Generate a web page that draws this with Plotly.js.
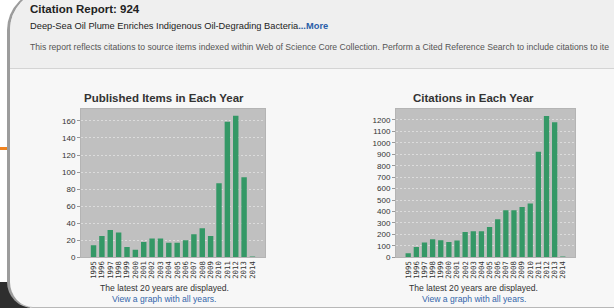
<!DOCTYPE html>
<html>
<head>
<meta charset="utf-8">
<script src="https://cdn.plot.ly/plotly-3.0.1.min.js"></script>
<style>
  html, body { margin:0; padding:0; width:614px; height:308px; overflow:hidden; background:#ffffff; font-family:"Liberation Sans", Arial, sans-serif; }
  #dark { position:absolute; left:0; top:282px; width:30px; height:26px; background:#2e2e2e; }
  #orange { position:absolute; left:0; top:147px; width:10px; height:3px; background:#f0831f; }
  #panel { position:absolute; left:7px; top:-10px; width:640px; height:318px; background:#f7f7f7;
           border-left:3px solid #9c9c9c; border-bottom:1px solid #b8b8b8; border-top:1px solid #c8c8c8;
           border-radius:40px 30px 26px 26px; box-sizing:border-box; overflow:hidden; }
  #header { position:absolute; left:0; top:0; width:100%; height:77px; background:#efefef; border-bottom:1px solid #d4d4d4; }
  .t { position:absolute; white-space:nowrap; }
  #chart { position:absolute; left:0; top:0; width:614px; height:308px; }
</style>
</head>
<body>
<div id="dark"></div>
<div id="orange"></div>
<div id="panel"><div id="header"></div></div>
<div class="t" style="left:30px; top:2px; font-size:11.5px; line-height:14px; font-weight:bold; color:#222;">Citation Report: 924</div>
<div class="t" style="left:30px; top:20px; font-size:9.3px; line-height:12px; color:#222;">Deep-Sea Oil Plume Enriches Indigenous Oil-Degrading Bacteria<span style="font-weight:bold; color:#2a5ea8;">...More</span></div>
<div class="t" style="left:30px; top:41px; font-size:8.65px; line-height:12px; color:#555;">This report reflects citations to source items indexed within Web of Science Core Collection. Perform a Cited Reference Search to include citations to ite</div>
<div id="chart"></div>
<script>
const years = ["1995","1996","1997","1998","1999","2000","2001","2002","2003","2004","2005","2006","2007","2008","2009","2010","2011","2012","2013","2014"];
const publishedItems = [14,25,32,29,12,9,18,22,22,17,17,20,27,34,25,87,159,166,94,1];
const citations = [35,90,130,158,148,134,146,222,228,228,265,332,412,412,440,470,922,1235,1180,8];
const leftTitle = "Published Items in Each Year";
const rightTitle = "Citations in Each Year";
const footLine1 = "The latest 20 years are displayed.";
const footLine2 = "View a graph with all years.";

const W = 614, H = 308;
const barColor = "rgb(52,152,102)";
const tickFont = {family:"Liberation Sans, Arial, sans-serif", size:8, color:"#333"};
const xTickFont = {family:"DejaVu Sans Mono, Liberation Mono, monospace", size:7.3, color:"#333"};
const yDom = [(H-257.3)/H, (H-109)/H];

const data = [
  {type:"bar", x:years, y:publishedItems, xaxis:"x", yaxis:"y", marker:{color:barColor}, width:0.65, hoverinfo:"none"},
  {type:"bar", x:years, y:citations, xaxis:"x2", yaxis:"y2", marker:{color:barColor}, width:0.65, hoverinfo:"none"}
];

function xax(dom, anchor){
  return {domain:dom, anchor:anchor, type:"category", range:[-1.5, years.length+0.5],
    tickmode:"array", tickvals:years, ticktext:years,
    tickangle:-90, tickfont:xTickFont, ticks:"", showgrid:false, showline:true, linecolor:"#b4b4b4", mirror:true, zeroline:false, fixedrange:true};
}
function yax(range, dtick, anchor){
  return {domain:yDom, anchor:anchor, range:range, dtick:dtick, tick0:0, ticks:"outside", ticklen:3, tickcolor:"#999",
    tickfont:tickFont, showgrid:true, gridcolor:"#dcdcdc", griddash:"2px,2px", gridwidth:1,
    showline:true, linecolor:"#b4b4b4", mirror:true, zeroline:false, fixedrange:true};
}

const layout = {
  width:W, height:H, margin:{l:0,r:0,t:0,b:0},
  paper_bgcolor:"rgba(0,0,0,0)", plot_bgcolor:"#c0c0c0",
  showlegend:false, bargap:0.35,
  xaxis: xax([81/W, 265/W], "y"),
  yaxis: yax([0,174], 20, "x"),
  xaxis2: xax([396/W, 575/W], "y2"),
  yaxis2: yax([0,1296], 100, "x2"),
  font:{family:"Liberation Sans, Arial, sans-serif"},
  annotations:[
    {text:"<b>"+leftTitle+"</b>", x:164/W, y:1-97.7/H, xref:"paper", yref:"paper", xanchor:"center", yanchor:"middle", showarrow:false, font:{size:11.5, color:"#333"}},
    {text:"<b>"+rightTitle+"</b>", x:473.5/W, y:1-97.7/H, xref:"paper", yref:"paper", xanchor:"center", yanchor:"middle", showarrow:false, font:{size:11.5, color:"#333"}},
    {text:footLine1, x:164/W, y:1-288/H, xref:"paper", yref:"paper", xanchor:"center", yanchor:"middle", showarrow:false, font:{size:8.6, color:"#333"}},
    {text:footLine2, x:164/W, y:1-299/H, xref:"paper", yref:"paper", xanchor:"center", yanchor:"middle", showarrow:false, font:{size:8.6, color:"#3366aa"}},
    {text:footLine1, x:473.5/W, y:1-288/H, xref:"paper", yref:"paper", xanchor:"center", yanchor:"middle", showarrow:false, font:{size:8.6, color:"#333"}},
    {text:footLine2, x:473.5/W, y:1-299/H, xref:"paper", yref:"paper", xanchor:"center", yanchor:"middle", showarrow:false, font:{size:8.6, color:"#3366aa"}}
  ]
};

Plotly.newPlot("chart", data, layout, {staticPlot:true, displayModeBar:false});
</script>
</body>
</html>
